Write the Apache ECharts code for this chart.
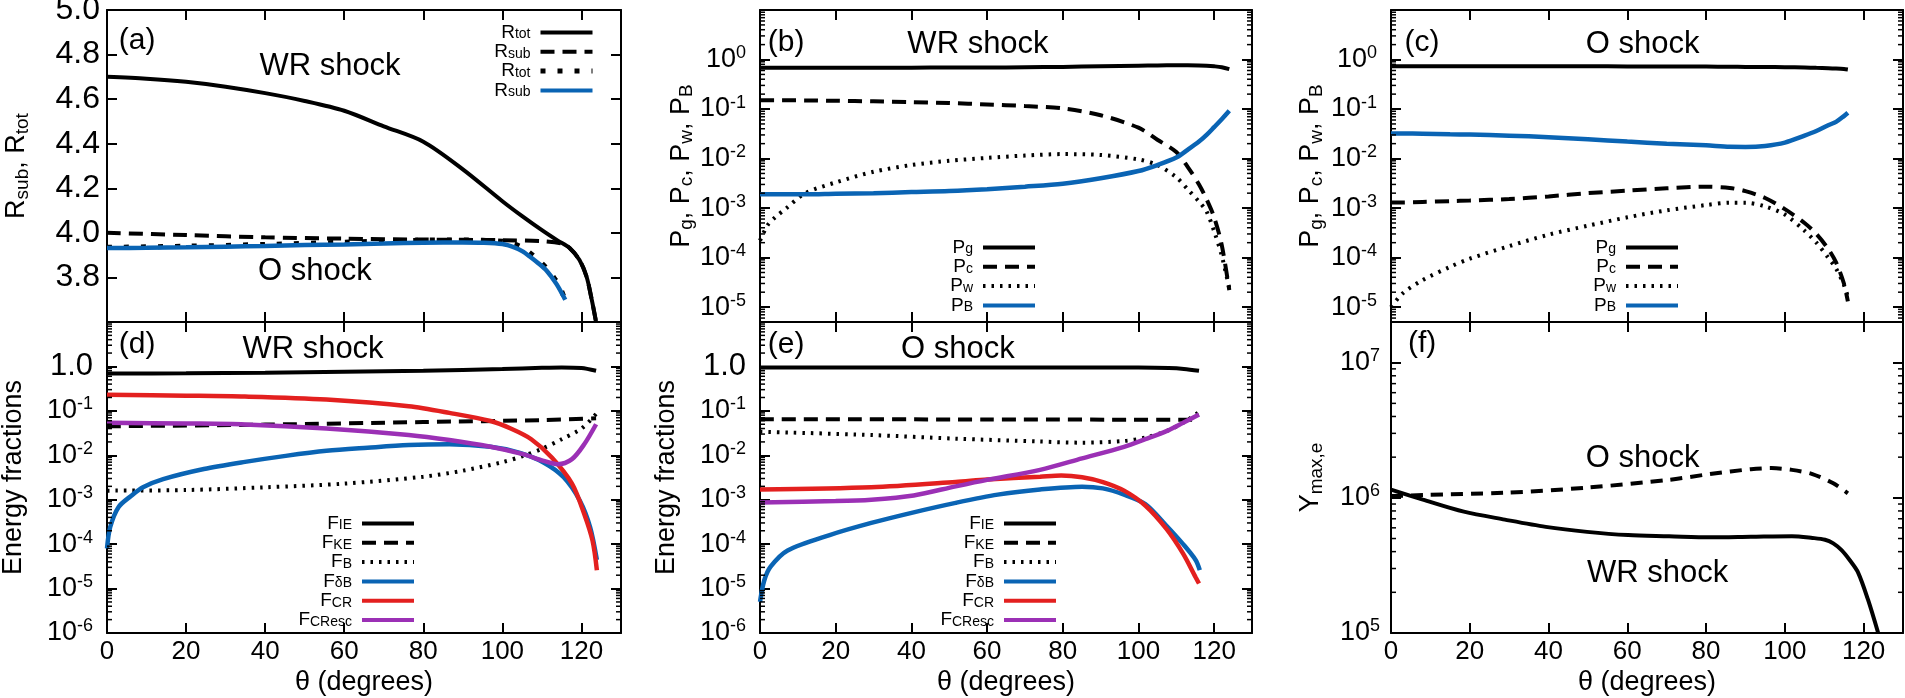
<!DOCTYPE html>
<html>
<head>
<meta charset="utf-8">
<script src="https://cdn.jsdelivr.net/npm/echarts@6/dist/echarts.min.js"></script>
<style>
  html, body { margin: 0; padding: 0; background: #ffffff; }
  #chart { width: 1905px; height: 698px; }
</style>
</head>
<body>
<div id="chart"></div>
<script>
// ---------------- (a) compression ratios ----------------
const aThetaWrTot = [0, 10, 20, 30, 40, 50, 60, 70, 80, 90, 100, 105, 110, 114, 117, 119.5, 121.3, 122.6, 123.7];
const aWrRtot     = [4.700, 4.692, 4.678, 4.656, 4.627, 4.592, 4.548, 4.478, 4.409, 4.285, 4.142, 4.075, 4.012, 3.965, 3.932, 3.878, 3.803, 3.700, 3.600];
const aThetaWrSub = [0, 20, 40, 60, 80, 100, 110, 115, 117, 119.5, 121.3, 122.6, 123.7];
const aWrRsub     = [4.000, 3.990, 3.980, 3.974, 3.970, 3.967, 3.963, 3.952, 3.932, 3.878, 3.803, 3.700, 3.600];
const aThetaOTot  = [0, 20, 40, 60, 80, 90, 100, 103, 105, 107, 109, 111, 113, 114.5, 115.6];
const aORtot      = [3.935, 3.940, 3.948, 3.958, 3.967, 3.968, 3.962, 3.950, 3.935, 3.910, 3.880, 3.845, 3.800, 3.760, 3.710];
const aThetaOSub  = [0, 10, 20, 30, 40, 50, 60, 70, 80, 90, 95, 100, 103, 105, 107, 109, 111.2, 113.7, 115.9];
const aORsub      = [3.932, 3.933, 3.935, 3.938, 3.941, 3.945, 3.948, 3.952, 3.956, 3.957, 3.956, 3.950, 3.935, 3.918, 3.893, 3.865, 3.830, 3.770, 3.700];

// ---------------- (b) WR shock pressures ----------------
const bTheta = [0, 2, 4, 7, 12, 20, 30, 40, 50, 60, 70, 80, 90, 100, 105, 110, 113, 116, 118, 120, 122, 124];
const bPg = [0.68, 0.68, 0.68, 0.68, 0.68, 0.68, 0.68, 0.685, 0.69, 0.69, 0.70, 0.71, 0.73, 0.75, 0.76, 0.765, 0.765, 0.76, 0.75, 0.73, 0.70, 0.64];
const bPc = [0.15, 0.15, 0.15, 0.15, 0.149, 0.147, 0.143, 0.138, 0.132, 0.124, 0.115, 0.103, 0.075, 0.042, 0.024, 0.0135, 0.0068, 0.0030, 0.0015, 6.5e-4, 1.8e-4, 2.2e-5];
const bPw = [2.2e-4, 4.5e-4, 6.5e-4, 1.0e-3, 2.0e-3, 3.3e-3, 5.4e-3, 7.4e-3, 9.0e-3, 1.03e-2, 1.15e-2, 1.23e-2, 1.18e-2, 9.6e-3, 7.4e-3, 4.2e-3, 2.4e-3, 1.35e-3, 8.5e-4, 3.4e-4, 1.1e-4, 2.4e-5];
const bPB = [1.9e-3, 1.9e-3, 1.9e-3, 1.9e-3, 1.9e-3, 1.95e-3, 2.0e-3, 2.1e-3, 2.2e-3, 2.4e-3, 2.7e-3, 3.1e-3, 4.0e-3, 5.6e-3, 7.4e-3, 1.05e-2, 1.5e-2, 2.2e-2, 3.0e-2, 4.3e-2, 6.2e-2, 9.2e-2];

// ---------------- (c) O shock pressures ----------------
const cTheta = [0, 3, 8, 15, 20, 30, 40, 50, 60, 70, 80, 86, 90, 95, 100, 105, 108, 111, 113, 115, 116];
const cPg = [0.73, 0.73, 0.73, 0.73, 0.73, 0.73, 0.73, 0.73, 0.725, 0.72, 0.72, 0.715, 0.71, 0.705, 0.70, 0.69, 0.68, 0.67, 0.66, 0.645, 0.63];
const cPc = [1.3e-3, 1.3e-3, 1.33e-3, 1.38e-3, 1.42e-3, 1.52e-3, 1.72e-3, 2.0e-3, 2.25e-3, 2.5e-3, 2.7e-3, 2.55e-3, 2.2e-3, 1.6e-3, 9.5e-4, 5.0e-4, 3.0e-4, 1.5e-4, 8.0e-5, 3.0e-5, 1.3e-5];
const cPw = [1.0e-5, 1.9e-5, 3.5e-5, 6.5e-5, 9.5e-5, 1.7e-4, 2.9e-4, 4.4e-4, 6.5e-4, 9.0e-4, 1.15e-3, 1.28e-3, 1.28e-3, 1.08e-3, 7.4e-4, 3.5e-4, 2.0e-4, 1.0e-4, 6.0e-5, 2.8e-5, 1.6e-5];
const cPB = [0.032, 0.032, 0.0318, 0.031, 0.0305, 0.029, 0.027, 0.0245, 0.022, 0.020, 0.0185, 0.0173, 0.0172, 0.018, 0.021, 0.029, 0.036, 0.047, 0.055, 0.072, 0.084];

// ---------------- (d) WR shock energy fractions ----------------
const dThetaIE = [0, 20, 40, 60, 80, 100, 110, 115, 120, 123.7];
const dFIE     = [0.69, 0.70, 0.72, 0.76, 0.80, 0.87, 0.93, 0.95, 0.92, 0.80];
const dThetaKE = [0, 40, 80, 110, 123.7];
const dFKE     = [0.045, 0.049, 0.056, 0.062, 0.068];
const dThetaB  = [0, 20, 40, 60, 80, 90, 100, 105, 110, 115, 120, 123.7];
const dFB      = [1.6e-3, 1.65e-3, 1.9e-3, 2.3e-3, 3.3e-3, 4.5e-3, 7.0e-3, 9.5e-3, 0.014, 0.023, 0.040, 0.085];
const dThetaDB = [0, 0.8, 2.9, 6, 9.1, 14.2, 24.5, 34.9, 45.2, 55.5, 65.9, 76.3, 86.6, 97, 104.2, 110.4, 115.5, 119.6, 122.2, 123.9];
const dFdB     = [8e-5, 2.4e-4, 6.8e-4, 1.2e-3, 1.9e-3, 2.9e-3, 4.9e-3, 7.1e-3, 9.7e-3, 1.26e-2, 1.48e-2, 1.7e-2, 1.77e-2, 1.55e-2, 1.15e-2, 6.9e-3, 3.2e-3, 9.5e-4, 2.4e-4, 4.4e-5];
const dThetaCR = [0, 20, 34.9, 55.5, 76.3, 86.6, 97, 102.1, 107.3, 112.5, 117.6, 120.7, 122.8, 123.9];
const dFCR     = [0.23, 0.22, 0.21, 0.18, 0.127, 0.09, 0.059, 0.040, 0.023, 8.9e-3, 2.3e-3, 4.8e-4, 1.2e-4, 2.6e-5];
const dThetaEs = [0, 20, 34.9, 55.5, 76.3, 86.6, 97, 105.2, 110.4, 114, 117.6, 120.7, 123.7];
const dFCResc  = [0.054, 0.052, 0.0496, 0.040, 0.0286, 0.022, 0.0155, 0.0106, 7.5e-3, 6.3e-3, 8.2e-3, 0.0177, 0.050];

// ---------------- (e) O shock energy fractions ----------------
const eThetaIE = [0, 60, 100, 108, 112, 116];
const eFIE     = [0.95, 0.95, 0.94, 0.92, 0.88, 0.80];
const eThetaKE = [0, 60, 116];
const eFKE     = [0.065, 0.064, 0.063];
const eThetaB  = [0, 29.4, 51.7, 74, 85.1, 96.2, 101.8, 107.4, 111.8, 115.7];
const eFB      = [0.034, 0.0286, 0.0237, 0.0204, 0.0192, 0.021, 0.025, 0.035, 0.054, 0.090];
const eThetaDB = [0, 1.1, 2.8, 7.3, 18.4, 29.4, 40.6, 51.7, 62.8, 74, 85.1, 90.6, 96.2, 101.8, 107.4, 111.8, 115.1, 116.2];
const eFdB     = [5e-6, 1.5e-5, 3.1e-5, 7.2e-5, 1.6e-4, 3.0e-4, 5.2e-4, 8.5e-4, 1.3e-3, 1.7e-3, 1.97e-3, 1.8e-3, 1.3e-3, 8.0e-4, 2.6e-4, 1.0e-4, 4.4e-5, 2.6e-5];
const eThetaCR = [0, 29.4, 51.7, 60, 74, 79.6, 85.1, 90.6, 96.2, 101.8, 107.4, 111.8, 115.1, 116];
const eFCR     = [1.7e-3, 1.9e-3, 2.5e-3, 2.85e-3, 3.3e-3, 3.5e-3, 3.2e-3, 2.5e-3, 1.6e-3, 7.4e-4, 2.2e-4, 6.1e-5, 1.8e-5, 1.3e-5];
const eThetaEs = [0, 20, 29.4, 40.6, 51.7, 60, 74, 85.1, 96.2, 101.8, 107.4, 111.8, 116];
const eFCResc  = [8.7e-4, 9.3e-4, 1.0e-3, 1.25e-3, 2.0e-3, 2.8e-3, 4.7e-3, 8.5e-3, 0.0155, 0.023, 0.035, 0.054, 0.083];

// ---------------- (f) maximum electron Lorentz factor ----------------
const fThetaWR = [0, 8.1, 18.5, 28.9, 39.3, 49.8, 60.2, 70.6, 81, 91.4, 101.8, 107, 110.2, 112.3, 114.4, 116.5, 118.6, 121.1, 123.7];
const fWR      = [1.15e6, 9.7e5, 7.9e5, 6.9e5, 6.1e5, 5.6e5, 5.3e5, 5.2e5, 5.1e5, 5.15e5, 5.2e5, 5.05e5, 4.9e5, 4.6e5, 4.1e5, 3.45e5, 2.8e5, 1.77e5, 1.0e5];
const fThetaO  = [0, 8.1, 28.9, 49.8, 70.6, 81, 91.4, 96.6, 101.8, 107, 112.3, 116];
const fO       = [1.03e6, 1.05e6, 1.09e6, 1.19e6, 1.36e6, 1.5e6, 1.63e6, 1.66e6, 1.61e6, 1.5e6, 1.28e6, 1.08e6];

// x tick values shared by every panel
const thetaTicks = [0, 20, 40, 60, 80, 100, 120];

// ---------------- styling ----------------
const FONT = "'Liberation Sans', Arial, Helvetica, sans-serif";
const BLACK = '#000000', BLUE = '#0a64b4', RED = '#e3201f', PURPLE = '#9b30b5';

const ST = {
  solid:  { color: BLACK,  width: 4,   type: 'solid' },
  dash:   { color: BLACK,  width: 4,   type: [14, 8] },
  dashF:  { color: BLACK,  width: 4,   type: [12, 8] },
  dot:    { color: BLACK,  width: 4,   type: [2.5, 6] },
  bigDot: { color: BLACK,  width: 5,   type: [5, 12] },
  blue:   { color: BLUE,   width: 4.5, type: 'solid' },
  red:    { color: RED,    width: 4.5, type: 'solid' },
  purple: { color: PURPLE, width: 4.5, type: 'solid' }
};

const grids = [
  { left: 107,  top: 10,  width: 514, height: 312 },  // a
  { left: 760,  top: 10,  width: 492, height: 312 },  // b
  { left: 1391, top: 10,  width: 512, height: 312 },  // c
  { left: 107,  top: 322, width: 514, height: 311 },  // d
  { left: 760,  top: 322, width: 492, height: 311 },  // e
  { left: 1391, top: 322, width: 512, height: 311 }   // f
].map(g => Object.assign({ outerBoundsMode: 'none', containLabel: false }, g));

const AL = { onZero: false, lineStyle: { color: BLACK, width: 2 } };
const AT = { inside: true, length: 10, lineStyle: { color: BLACK, width: 2 } };

const nameStyle = {
  color: BLACK, fontFamily: FONT, fontSize: 27,
  rich: {
    m: { fontSize: 27, lineHeight: 30, fontFamily: FONT, color: BLACK },
    s: { fontSize: 19, lineHeight: 10, verticalAlign: 'bottom', fontFamily: FONT, color: BLACK }
  }
};

function xAxes(gi, withLabels) {
  const base = {
    gridIndex: gi, type: 'value', min: 0, max: 130, interval: 20,
    axisLine: AL, axisTick: AT, splitLine: { show: false }
  };
  const bottom = Object.assign({}, base, {
    position: 'bottom',
    axisLabel: withLabels ? {
      show: true, fontSize: 26, color: BLACK, fontFamily: FONT, margin: 6,
      formatter: v => (thetaTicks.indexOf(v) >= 0 ? String(v) : '')
    } : { show: false }
  });
  if (withLabels) {
    Object.assign(bottom, {
      name: 'θ (degrees)', nameLocation: 'middle', nameGap: 36,
      nameTextStyle: { color: BLACK, fontFamily: FONT, fontSize: 27 }
    });
  }
  const top = Object.assign({}, base, { position: 'top', axisLabel: { show: false } });
  return [bottom, top];
}

function logLabel(useOne) {
  return function (v) {
    const e = Math.log10(v);
    const n = Math.round(e);
    if (Math.abs(e - n) > 1e-6) return '';
    if (useOne && n === 0) return '{u|1.0}';
    return '{m|10}{p|' + n + '}';
  };
}

const logRich = {
  m: { fontSize: 27, lineHeight: 31, fontFamily: FONT, color: BLACK },
  p: { fontSize: 18, lineHeight: 10, verticalAlign: 'top', fontFamily: FONT, color: BLACK },
  u: { fontSize: 31, lineHeight: 31, fontFamily: FONT, color: BLACK }
};

function yLogAxes(gi, min, max, name, gap, useOne, margin) {
  const base = {
    gridIndex: gi, type: 'log', logBase: 10, min: min, max: max,
    axisLine: AL, axisTick: AT, splitLine: { show: false }, minorTick: { show: false }
  };
  const left = Object.assign({}, base, {
    position: 'left',
    axisLabel: { formatter: logLabel(useOne), margin: margin, rich: logRich, showMaxLabel: false },
    name: name, nameLocation: 'middle', nameGap: gap, nameTextStyle: nameStyle
  });
  const right = Object.assign({}, base, { position: 'right', axisLabel: { show: false } });
  return [left, right];
}

function yLinAxes(gi) {
  const base = {
    gridIndex: gi, type: 'value', min: 3.6, max: 5.0, interval: 0.2,
    axisLine: AL, axisTick: AT, splitLine: { show: false }
  };
  const left = Object.assign({}, base, {
    position: 'left',
    axisLabel: {
      fontSize: 32, color: BLACK, fontFamily: FONT, margin: 7,
      formatter: v => (v < 3.7 ? '' : v.toFixed(1))
    },
    name: '{m|R}{s|sub}{m|, R}{s|tot}', nameLocation: 'middle', nameGap: 75, nameTextStyle: nameStyle
  });
  const right = Object.assign({}, base, { position: 'right', axisLabel: { show: false } });
  return [left, right];
}

const xAxis = [].concat(
  xAxes(0, false), xAxes(1, false), xAxes(2, false),
  xAxes(3, true), xAxes(4, true), xAxes(5, true)
);
const yAxis = [].concat(
  yLinAxes(0),
  yLogAxes(1, 5e-6, 10, '{m|P}{s|g}{m|, P}{s|c}{m|, P}{s|w}{m|, P}{s|B}', 62, false, 14),
  yLogAxes(2, 5e-6, 10, '{m|P}{s|g}{m|, P}{s|c}{m|, P}{s|w}{m|, P}{s|B}', 65, false, 14),
  yLogAxes(3, 1e-6, 10, 'Energy fractions', 80, true, 14),
  yLogAxes(4, 1e-6, 10, 'Energy fractions', 80, true, 14),
  yLogAxes(5, 1e5, 2e7, '{m|Y}{s|max,e}', 65, false, 11)
);

function pairs(xs, ys) { return xs.map((x, i) => [x, ys[i]]); }

function line(name, gi, xs, ys, style) {
  return {
    name: name, type: 'line', xAxisIndex: 2 * gi, yAxisIndex: 2 * gi,
    data: pairs(xs, ys), symbol: 'none', showSymbol: false, smooth: 0.3,
    clip: true, silent: true, z: 3,
    itemStyle: { color: style.color },
    lineStyle: style
  };
}

// log-axis minor ticks (2..9 per decade) on both sides of a panel
function minorTicks(gi, lo, hi) {
  const vals = [];
  for (let e = Math.floor(Math.log10(lo)); e <= Math.ceil(Math.log10(hi)); e++) {
    for (let k = 2; k <= 9; k++) {
      const v = k * Math.pow(10, e);
      if (v > lo * 1.0001 && v < hi * 0.9999) vals.push([0, v]);
    }
  }
  return {
    type: 'custom', xAxisIndex: 2 * gi, yAxisIndex: 2 * gi, silent: true, z: 6, clip: false,
    data: vals,
    renderItem: function (params, api) {
      const cs = params.coordSys;
      const py = api.coord([0, api.value(1)])[1];
      const st = { stroke: BLACK, lineWidth: 1.5 };
      return {
        type: 'group',
        children: [
          { type: 'line', shape: { x1: cs.x, y1: py, x2: cs.x + 5, y2: py }, style: st },
          { type: 'line', shape: { x1: cs.x + cs.width - 5, y1: py, x2: cs.x + cs.width, y2: py }, style: st }
        ]
      };
    }
  };
}

const series = [
  line('a1', 0, aThetaWrTot, aWrRtot, ST.solid),
  line('a2', 0, aThetaWrSub, aWrRsub, ST.dash),
  line('a3', 0, aThetaOTot, aORtot, ST.bigDot),
  line('a4', 0, aThetaOSub, aORsub, ST.blue),

  line('b1', 1, bTheta, bPg, ST.solid),
  line('b2', 1, bTheta, bPc, ST.dash),
  line('b3', 1, bTheta, bPw, ST.dot),
  line('b4', 1, bTheta, bPB, ST.blue),

  line('c1', 2, cTheta, cPg, ST.solid),
  line('c2', 2, cTheta, cPc, ST.dash),
  line('c3', 2, cTheta, cPw, ST.dot),
  line('c4', 2, cTheta, cPB, ST.blue),

  line('d1', 3, dThetaIE, dFIE, ST.solid),
  line('d2', 3, dThetaKE, dFKE, ST.dash),
  line('d3', 3, dThetaB, dFB, ST.dot),
  line('d4', 3, dThetaDB, dFdB, ST.blue),
  line('d5', 3, dThetaCR, dFCR, ST.red),
  line('d6', 3, dThetaEs, dFCResc, ST.purple),

  line('e1', 4, eThetaIE, eFIE, ST.solid),
  line('e2', 4, eThetaKE, eFKE, ST.dash),
  line('e3', 4, eThetaB, eFB, ST.dot),
  line('e4', 4, eThetaDB, eFdB, ST.blue),
  line('e5', 4, eThetaCR, eFCR, ST.red),
  line('e6', 4, eThetaEs, eFCResc, ST.purple),

  line('f1', 5, fThetaWR, fWR, ST.solid),
  line('f2', 5, fThetaO, fO, ST.dashF),

  minorTicks(1, 5e-6, 10),
  minorTicks(2, 5e-6, 10),
  minorTicks(3, 1e-6, 10),
  minorTicks(4, 1e-6, 10),
  minorTicks(5, 1e5, 2e7)
];

const legendText = {
  a1: '{m|R}{s|tot}', a2: '{m|R}{s|sub}', a3: '{m|R}{s|tot}', a4: '{m|R}{s|sub}',
  b1: '{m|P}{s|g}', b2: '{m|P}{s|c}', b3: '{m|P}{s|w}', b4: '{m|P}{s|B}',
  c1: '{m|P}{s|g}', c2: '{m|P}{s|c}', c3: '{m|P}{s|w}', c4: '{m|P}{s|B}',
  d1: '{m|F}{s|IE}', d2: '{m|F}{s|KE}', d3: '{m|F}{s|B}', d4: '{m|F}{s|δB}', d5: '{m|F}{s|CR}', d6: '{m|F}{s|CResc}',
  e1: '{m|F}{s|IE}', e2: '{m|F}{s|KE}', e3: '{m|F}{s|B}', e4: '{m|F}{s|δB}', e5: '{m|F}{s|CR}', e6: '{m|F}{s|CResc}'
};

function legend(names, right, top) {
  return {
    data: names.map(n => (n === 'a3' ? { name: n, lineStyle: { width: 5 } } : { name: n })),
    orient: 'vertical', align: 'right', right: right, top: top, padding: 0,
    itemWidth: 52, itemHeight: 10, itemGap: 0.3, selectedMode: false,
    formatter: n => legendText[n],
    itemStyle: { opacity: 0 },
    lineStyle: { width: 4 },
    textStyle: {
      color: BLACK, fontFamily: FONT, fontSize: 19, padding: [0, 5, 0, 0],
      rich: {
        m: { fontSize: 19, lineHeight: 18, fontFamily: FONT, color: BLACK },
        s: { fontSize: 14, lineHeight: 2, verticalAlign: 'bottom', fontFamily: FONT, color: BLACK }
      }
    }
  };
}

const option = {
  animation: false,
  backgroundColor: '#ffffff',
  textStyle: { fontFamily: FONT, color: BLACK },
  grid: grids,
  xAxis: xAxis,
  yAxis: yAxis,
  legend: [
    legend(['a1', 'a2', 'a3', 'a4'], 1310, 23),
    legend(['b1', 'b2', 'b3', 'b4'], 868, 238),
    legend(['c1', 'c2', 'c3', 'c4'], 225, 238),
    legend(['d1', 'd2', 'd3', 'd4', 'd5', 'd6'], 1489, 514),
    legend(['e1', 'e2', 'e3', 'e4', 'e5', 'e6'], 847, 514)
  ],
  series: series
};

const chart = echarts.init(document.getElementById('chart'), null, { renderer: 'canvas' });
chart.setOption(option);

// panel tags and shock labels, anchored in each panel's data coordinates
const notes = [
  { g: 0, at: [7.6, 4.861], text: '(a)', size: 30 },
  { g: 0, at: [56.4, 4.745], text: 'WR shock', size: 31 },
  { g: 0, at: [52.6, 3.829], text: 'O shock', size: 31 },
  { g: 1, at: [6.9, 2.23], text: '(b)', size: 30 },
  { g: 1, at: [57.6, 2.03], text: 'WR shock', size: 31 },
  { g: 2, at: [7.9, 2.23], text: '(c)', size: 30 },
  { g: 2, at: [63.9, 2.03], text: 'O shock', size: 31 },
  { g: 3, at: [7.6, 3.1], text: '(d)', size: 30 },
  { g: 3, at: [52.1, 2.4], text: 'WR shock', size: 31 },
  { g: 4, at: [6.9, 3.1], text: '(e)', size: 30 },
  { g: 4, at: [52.3, 2.4], text: 'O shock', size: 31 },
  { g: 5, at: [7.9, 1.37e7], text: '(f)', size: 30 },
  { g: 5, at: [63.9, 1.94e6], text: 'O shock', size: 31 },
  { g: 5, at: [67.7, 2.75e5], text: 'WR shock', size: 31 }
];

chart.setOption({
  graphic: notes.map(n => {
    const p = chart.convertToPixel({ xAxisIndex: 2 * n.g, yAxisIndex: 2 * n.g }, n.at);
    return {
      type: 'text', x: p[0], y: p[1], silent: true, z: 10,
      style: {
        text: n.text, fontSize: n.size, fontFamily: FONT, fill: BLACK,
        align: 'center', verticalAlign: 'middle'
      }
    };
  })
});
</script>
</body>
</html>
